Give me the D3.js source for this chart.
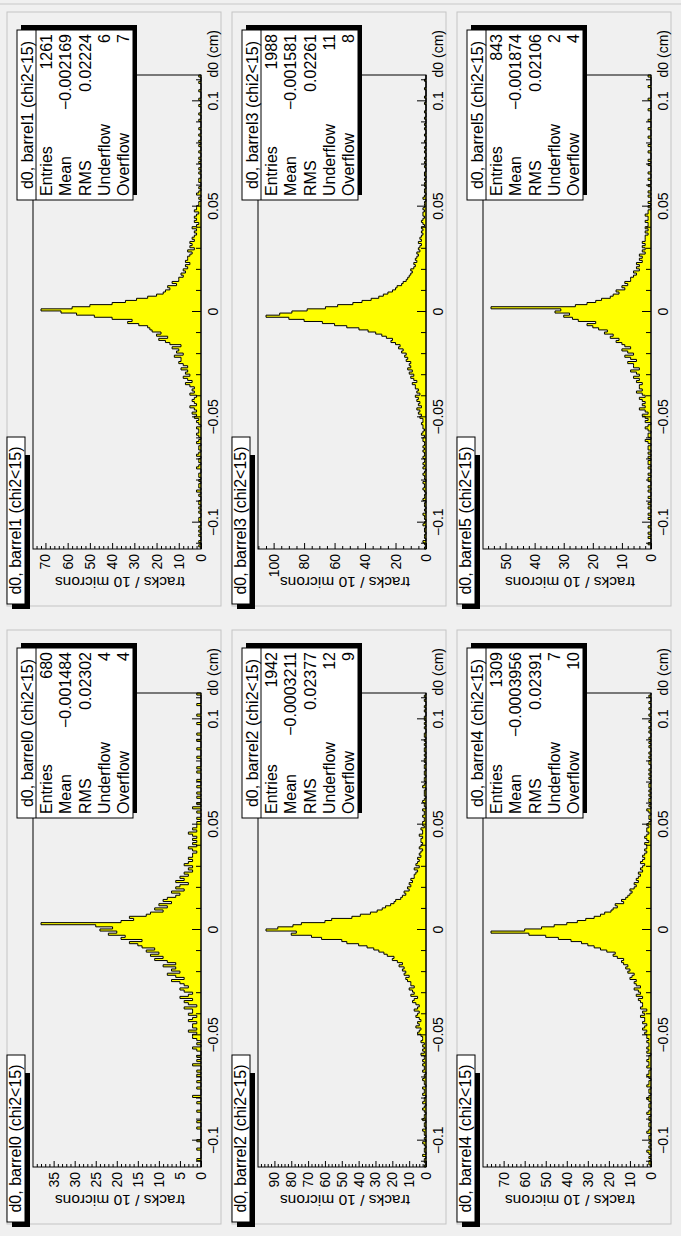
<!DOCTYPE html>
<html><head><meta charset="utf-8">
<script src="https://cdn.jsdelivr.net/npm/d3@7"></script>
<style>body{margin:0;background:#fff}svg{display:block}text{font-family:"Liberation Sans",Arial,Helvetica,sans-serif}</style>
</head><body>
<svg id="c" width="681" height="1236"></svg>
<script>
// ---------------- data ----------------
const histNames = ["d0, barrel0 (chi2<15)","d0, barrel1 (chi2<15)","d0, barrel2 (chi2<15)","d0, barrel3 (chi2<15)","d0, barrel4 (chi2<15)","d0, barrel5 (chi2<15)"];
const binLow = -0.1125, binHigh = 0.1125, binWidth = 0.001;
const entries = ["680","1261","1942","1988","1309","843"];
const means = ["\u22120.001484","\u22120.002169","\u22120.0003211","\u22120.001581","\u22120.0003956","\u22120.001874"];
const rmsVals = ["0.02302","0.02224","0.02377","0.02261","0.02391","0.02106"];
const underflows = ["4","6","12","11","7","2"];
const overflows = ["4","7","9","8","10","4"];
const yMajorStep = [5,10,10,20,10,10];
const yMinorStep = [1,2,2,5,2,2];
const xMajorTicks = [-0.1,-0.05,0,0.05,0.1];
const xMinorTicks = [-0.11,-0.09,-0.08,-0.07,-0.06,-0.04,-0.03,-0.02,-0.01,0.01,0.02,0.03,0.04,0.06,0.07,0.08,0.09,0.11];

// counts per 10-micron bin, from d0 = -0.1125 to 0.1125
const barrel0 = [0,0,0,1,0,0,0,0,1,0, 0,0,1,0,0,0,0,0,1,0, 0,1,0,0,0,0,1,0,0,0, 1,0,0,2,0,0,0,1,0,0, 1,0,0,1,0,1,0,0,2,0, 1,0,1,0,0,1,2,0,1,0, 1,2,
 2,1,3,1,2,2,1,3,2,1,3,2,2,4,1,
 3,4,2,5,3,2,4,5,3,4,
 5,7,4,6,8,5,7,6,9,6,
 8,11,9,12,10,13,11,14,
 15,17,14,19,18,22,20,24,21,25,38,19,16,17,13,
 12,9,11,8,10,7,9,8,
 6,5,7,4,6,5,3,6,4,5,
 3,4,2,3,2,4,3,2,3,2,
 2,1,2,3,1,2,1,2,1,2,3,1,2,1,1,
 1,0,1,0,0,1,0,2,0,1, 0,0,1,0,1,0,0,1,0,0, 1,0,0,0,1,0,1,0,0,0, 0,1,0,0,0,1,0,0,0,1, 0,0,1,0,0,0,0,1,0,0, 0,1,0,0,0,0,1,0,0,0, 0,1];
const barrel1 = [0,1,0,1,0,0,1,0,1,0, 1,0,0,1,1,0,0,1,0,1, 0,1,1,0,0,1,0,2,0,1, 1,0,1,0,1,1,0,0,2,1, 0,1,1,0,2,1,0,1,1,0, 2,1,0,1,2,1,1,2,0,1, 2,1,
 3,2,4,2,3,5,2,3,4,3,2,5,3,4,3,
 5,7,4,6,8,5,7,6,9,6,
 8,10,9,9,12,8,11,10,13,9,
 14,16,19,15,20,18,22,23,
 24,28,33,31,40,48,56,63,72,58,50,40,34,29,24,
 20,17,16,14,15,11,13,10,
 10,8,9,7,8,6,7,5,7,6,
 6,5,4,6,3,5,4,5,3,4,
 3,2,3,2,4,2,1,3,2,3,2,1,3,2,2,
 1,1,0,1,0,2,1,0,1,0, 0,1,1,0,0,1,0,1,0,0, 1,0,1,0,0,1,0,0,1,0, 1,0,0,1,0,0,1,0,0,0, 1,0,0,1,0,0,0,1,0,0, 1,0,0,0,1,0,0,0,1,0, 0,1];
const barrel2 = [1,0,1,1,0,2,0,1,1,0, 1,2,0,1,0,1,1,2,0,1, 1,0,2,1,1,0,1,2,1,0, 2,1,1,0,2,1,1,2,0,1, 1,2,1,1,0,2,1,1,2,1, 2,1,1,3,1,2,1,2,1,3, 2,2,
 3,5,4,3,6,4,5,3,4,6,5,4,7,5,4,
 6,8,7,5,9,7,8,10,7,9,
 9,11,12,10,13,12,14,13,16,14,
 17,20,19,23,25,28,31,35,
 40,47,50,62,68,80,77,95,88,79,74,60,56,44,39,
 33,29,26,24,21,19,18,15,
 14,12,13,10,11,9,10,8,9,7,
 7,6,5,7,4,6,5,4,5,3,
 4,3,2,4,3,2,3,3,2,4,2,2,3,1,2,
 2,1,1,2,1,1,2,0,1,1, 2,1,0,1,1,1,0,2,1,0, 1,1,0,1,1,0,1,1,0,1, 1,0,1,0,1,1,0,1,0,1, 0,1,1,0,0,1,0,1,0,1, 1,0,0,1,0,1,0,0,1,0, 1,0];
const barrel3 = [1,0,1,2,0,1,1,0,1,1, 0,2,1,0,1,1,2,0,1,0, 1,1,0,2,1,1,0,1,2,1, 1,2,0,1,1,2,1,0,2,1, 2,1,1,2,1,1,2,1,2,1, 1,2,2,1,3,2,1,2,2,3, 2,2,
 4,3,5,4,6,3,5,4,6,5,7,4,6,5,7,
 7,9,6,8,10,8,11,9,12,10,
 11,10,13,12,14,13,16,15,18,17,
 20,23,22,26,29,33,38,44,
 52,60,68,80,90,105,96,88,78,66,58,48,42,36,31,
 28,25,22,20,19,16,15,13,
 12,11,10,9,10,8,7,8,6,7,
 6,5,6,4,5,4,3,5,3,4,
 3,2,3,2,3,1,2,3,2,1,2,2,1,2,1,
 1,1,0,2,1,0,1,1,0,1, 1,0,1,0,1,1,0,0,1,0, 1,0,1,0,0,1,0,1,0,0, 1,0,0,1,0,0,1,0,1,0, 0,1,0,0,1,0,0,0,1,0, 0,1,0,0,0,1,0,0,0,1, 0,0];
const barrel4 = [0,1,1,0,1,0,1,2,0,1, 0,1,0,1,1,0,2,1,0,1, 1,0,1,1,0,2,1,0,1,1, 0,1,2,1,0,1,1,0,2,1, 1,0,1,2,1,1,0,2,1,1, 2,1,1,0,2,1,2,1,1,2, 1,2,
 2,3,2,4,3,2,4,3,3,5,3,4,2,5,4,
 4,5,6,4,7,5,6,8,5,7,
 8,7,10,9,8,11,10,12,11,13,
 14,13,16,18,17,21,24,27,
 30,33,38,44,50,58,76,60,52,46,40,35,31,27,24,
 22,19,18,16,17,13,14,12,
 11,10,9,10,8,7,8,6,7,6,
 5,6,4,5,4,3,5,4,3,4,
 3,2,3,2,2,3,1,2,3,2,1,2,2,1,2,
 1,0,1,1,0,1,2,0,1,0, 1,1,0,1,0,1,0,1,1,0, 0,1,0,1,0,1,0,0,1,1, 0,1,0,1,0,0,1,0,1,0, 1,0,0,1,0,1,0,0,1,0, 0,1,0,0,1,0,0,1,0,0, 1,0];
const barrel5 = [0,0,1,0,0,1,0,1,0,0, 1,0,0,0,1,0,1,0,0,1, 0,1,0,0,1,0,0,1,0,1, 0,0,1,1,0,1,0,0,1,0, 1,1,0,1,0,1,0,1,1,0, 1,2,0,1,1,0,1,2,1,0, 2,1,
 2,3,1,2,4,2,3,2,3,4,2,3,5,3,4,
 4,3,5,4,6,4,5,7,4,6,
 6,8,5,7,9,6,8,10,7,9,
 10,12,11,14,13,16,15,18,
 20,22,19,25,27,30,28,33,31,55,26,22,19,17,14,
 13,11,12,9,10,8,9,7,
 7,6,5,6,4,5,4,5,3,4,
 3,4,2,3,2,3,2,3,2,2,
 2,1,2,1,2,1,1,2,1,1,2,1,1,0,1,
 0,1,0,0,1,0,1,0,0,1, 0,0,1,0,0,1,0,0,0,1, 0,1,0,0,0,1,0,0,1,0, 0,0,1,0,0,0,1,0,0,0, 1,0,0,0,0,1,0,0,0,0, 1,0,0,0,0,0,1,0,0,0, 0,1];
const histData = [barrel0,barrel1,barrel2,barrel3,barrel4,barrel5];

// ---------------- layout (drawn in landscape, then rotated) ----------------
const W = 1236, H = 681, colW = 618, rowH = 225;
const svg = d3.select("#c");
const root = svg.append("g").attr("transform", `translate(0,${W}) rotate(-90)`);
root.append("rect").attr("x",0).attr("y",0).attr("width",W).attr("height",H).attr("fill","#f0f0f0");
root.append("line").attr("x1",W-4).attr("x2",W-4).attr("y1",0).attr("y2",H).attr("stroke","#c8c8c8");

const fmtX = v => Math.abs(v) < 1e-9 ? "0" : (v < 0 ? "\u2212" : "") + d3.format("~g")(Math.abs(v));

histData.forEach((vals, i) => {
  const c = i % 2, r = Math.floor(i / 2);
  const ox = c * colW, oy = r * rowH;
  const g = root.append("g").attr("transform", `translate(${ox},${oy})`);

  // pad
  g.append("rect").attr("x",12).attr("y",7).attr("width",594).attr("height",214)
    .attr("fill","#f0f0f0").attr("stroke","#c4c4c4").attr("stroke-width",1);

  const fx0 = 69, fx1 = 543, fy0 = 33, fy1 = 201;
  const x = d3.scaleLinear().domain([binLow, binHigh]).range([fx0, fx1]);
  const ymax = 1.05 * d3.max(vals);
  const y = d3.scaleLinear().domain([0, ymax]).range([fy1, fy0]);

  // histogram (step outline, filled)
  const pts = [[x(binLow), y(0)]];
  vals.forEach((v, k) => {
    pts.push([x(binLow + k * binWidth), y(v)]);
    pts.push([x(binLow + (k + 1) * binWidth), y(v)]);
  });
  pts.push([x(binLow + vals.length * binWidth), y(0)]);
  g.append("path").attr("d", d3.line()(pts) + "Z")
    .attr("fill","#ffff00").attr("stroke","#000").attr("stroke-width",1);

  // frame
  g.append("rect").attr("x",fx0).attr("y",fy0).attr("width",fx1-fx0).attr("height",fy1-fy0)
    .attr("fill","none").attr("stroke","#000").attr("stroke-width",1);

  // x axis
  g.append("g").attr("transform", `translate(0,${fy1})`)
    .call(d3.axisBottom(x).tickValues(xMajorTicks).tickSize(-9).tickPadding(7).tickFormat(fmtX));
  g.append("g").attr("transform", `translate(0,${fy1})`)
    .call(d3.axisBottom(x).tickValues(xMinorTicks).tickSize(-5).tickFormat(""));
  // y axis
  const yMaj = d3.range(0, ymax + 1e-9, yMajorStep[i]);
  const yMin = d3.range(0, ymax + 1e-9, yMinorStep[i]).filter(v => v % yMajorStep[i] !== 0);
  g.append("g").attr("transform", `translate(${fx0},0)`)
    .call(d3.axisLeft(y).tickValues(yMaj).tickSize(-6).tickPadding(5).tickFormat(d3.format("d")));
  g.append("g").attr("transform", `translate(${fx0},0)`)
    .call(d3.axisLeft(y).tickValues(yMin).tickSize(-3).tickFormat(""));
  g.selectAll(".domain").remove();
  g.selectAll(".tick line").attr("stroke","#000");
  g.selectAll(".tick text").attr("fill","#000").attr("font-size",14)
    .attr("font-family",'"Liberation Sans",Arial,sans-serif');

  // axis titles
  g.append("text").attr("x",588).attr("y",fy1+17).attr("text-anchor","end")
    .attr("font-size",14).text("d0 (cm)");
  g.append("text").attr("transform",`translate(41,${(fy0+fy1)/2+3}) rotate(-90)`)
    .attr("text-anchor","middle").attr("font-size",15.5).text("tracks / 10 microns");

  // stats box
  const sx0 = 418, sx1 = 588, sy0 = 17, sy1 = 133;
  g.append("rect").attr("x",sx0+5).attr("y",sy0+4).attr("width",sx1-sx0).attr("height",sy1-sy0).attr("fill","#000");
  g.append("rect").attr("x",sx0).attr("y",sy0).attr("width",sx1-sx0).attr("height",sy1-sy0)
    .attr("fill","#fff").attr("stroke","#000");
  const hH = 19;
  g.append("line").attr("x1",sx0).attr("x2",sx1).attr("y1",sy0+hH).attr("y2",sy0+hH).attr("stroke","#000");
  g.append("text").attr("x",(sx0+sx1)/2).attr("y",sy0+hH/2+6).attr("text-anchor","middle")
    .attr("font-size",16).text(histNames[i]);
  const labels = ["Entries","Mean","RMS","Underflow","Overflow"];
  const values = [entries[i], means[i], rmsVals[i], underflows[i], overflows[i]];
  const rowStep = (sy1 - sy0 - hH) / 5;
  labels.forEach((lab, k) => {
    const yy = sy0 + hH + rowStep * (k + 0.5) + 6;
    g.append("text").attr("x",sx0+4).attr("y",yy).attr("font-size",16).text(lab);
    g.append("text").attr("x",sx1-4).attr("y",yy).attr("text-anchor","end").attr("font-size",16).text(values[k]);
  });

  // title box
  const tx0 = 14, tx1 = 181, ty0 = 7, ty1 = 25;
  g.append("rect").attr("x",tx0-5).attr("y",ty0+5).attr("width",tx1-tx0-13).attr("height",ty1-ty0).attr("fill","#000");
  g.append("rect").attr("x",tx0).attr("y",ty0).attr("width",tx1-tx0).attr("height",ty1-ty0)
    .attr("fill","#fff").attr("stroke","#000");
  g.append("text").attr("x",(tx0+tx1)/2).attr("y",ty1-4).attr("text-anchor","middle")
    .attr("font-size",16).text(histNames[i]);
});
</script>
</body></html>
